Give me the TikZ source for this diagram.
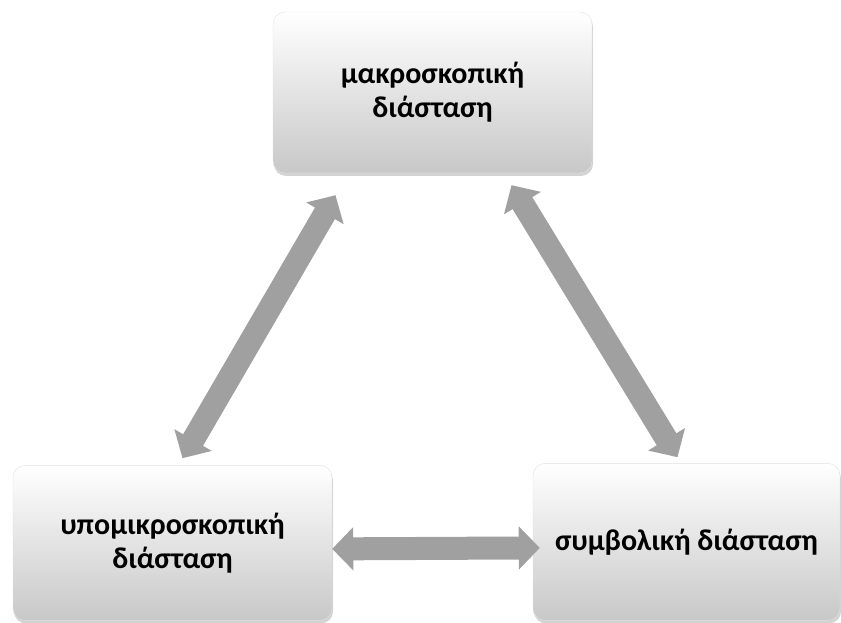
\documentclass[tikz,border=0pt]{standalone}
\usepackage{fontspec}
\setmainfont{Carlito}
\usetikzlibrary{arrows.meta, positioning, shadows}
\definecolor{boxtop}{RGB}{255,255,255}
\definecolor{boxbottom}{RGB}{200,200,200}
\definecolor{boxedge}{RGB}{225,225,225}
\definecolor{arrowfill}{RGB}{160,160,160}
\tikzset{
    dimbox/.style={
        rectangle, rounded corners=12pt, draw=boxedge, thin,
        top color=boxtop, bottom color=boxbottom,
        drop shadow={opacity=0.35, shadow xshift=1pt, shadow yshift=-3pt},
        align=center, font=\bfseries\fontsize{30}{34}\selectfont
    },
    linkarrow/.style={
        draw=arrowfill, line width=23pt,
        {Triangle[length=21pt, width=42pt]}-{Triangle[length=21pt, width=42pt]}
    }
}

\begin{document}
\begin{tikzpicture}[x=1pt, y=1pt]
\useasboundingbox (0,0) rectangle (841,622);

% Dimensions
\node[dimbox, minimum width=319pt, minimum height=161pt] (macro) at (432.5,529.5) {μακροσκοπική\\διάσταση};
\node[dimbox, minimum width=319pt, minimum height=155pt, below=292pt of macro, xshift=-260pt] (submicro) {υπομικροσκοπική\\διάσταση};
\node[dimbox, minimum width=307pt, minimum height=157pt, below=290pt of macro, xshift=254pt] (symbolic) {συμβολική διάσταση};

% Links
\draw[linkarrow] ([xshift=10pt, yshift=7pt]submicro.north) -- ([xshift=-97pt, yshift=-22pt]macro.south);
\draw[linkarrow] ([xshift=79pt, yshift=-12pt]macro.south) -- ([xshift=-9pt, yshift=6pt]symbolic.north);
\draw[linkarrow] ([yshift=-6pt]submicro.east) -- ([xshift=7pt, yshift=-6pt]symbolic.west);

\end{tikzpicture}
\end{document}
